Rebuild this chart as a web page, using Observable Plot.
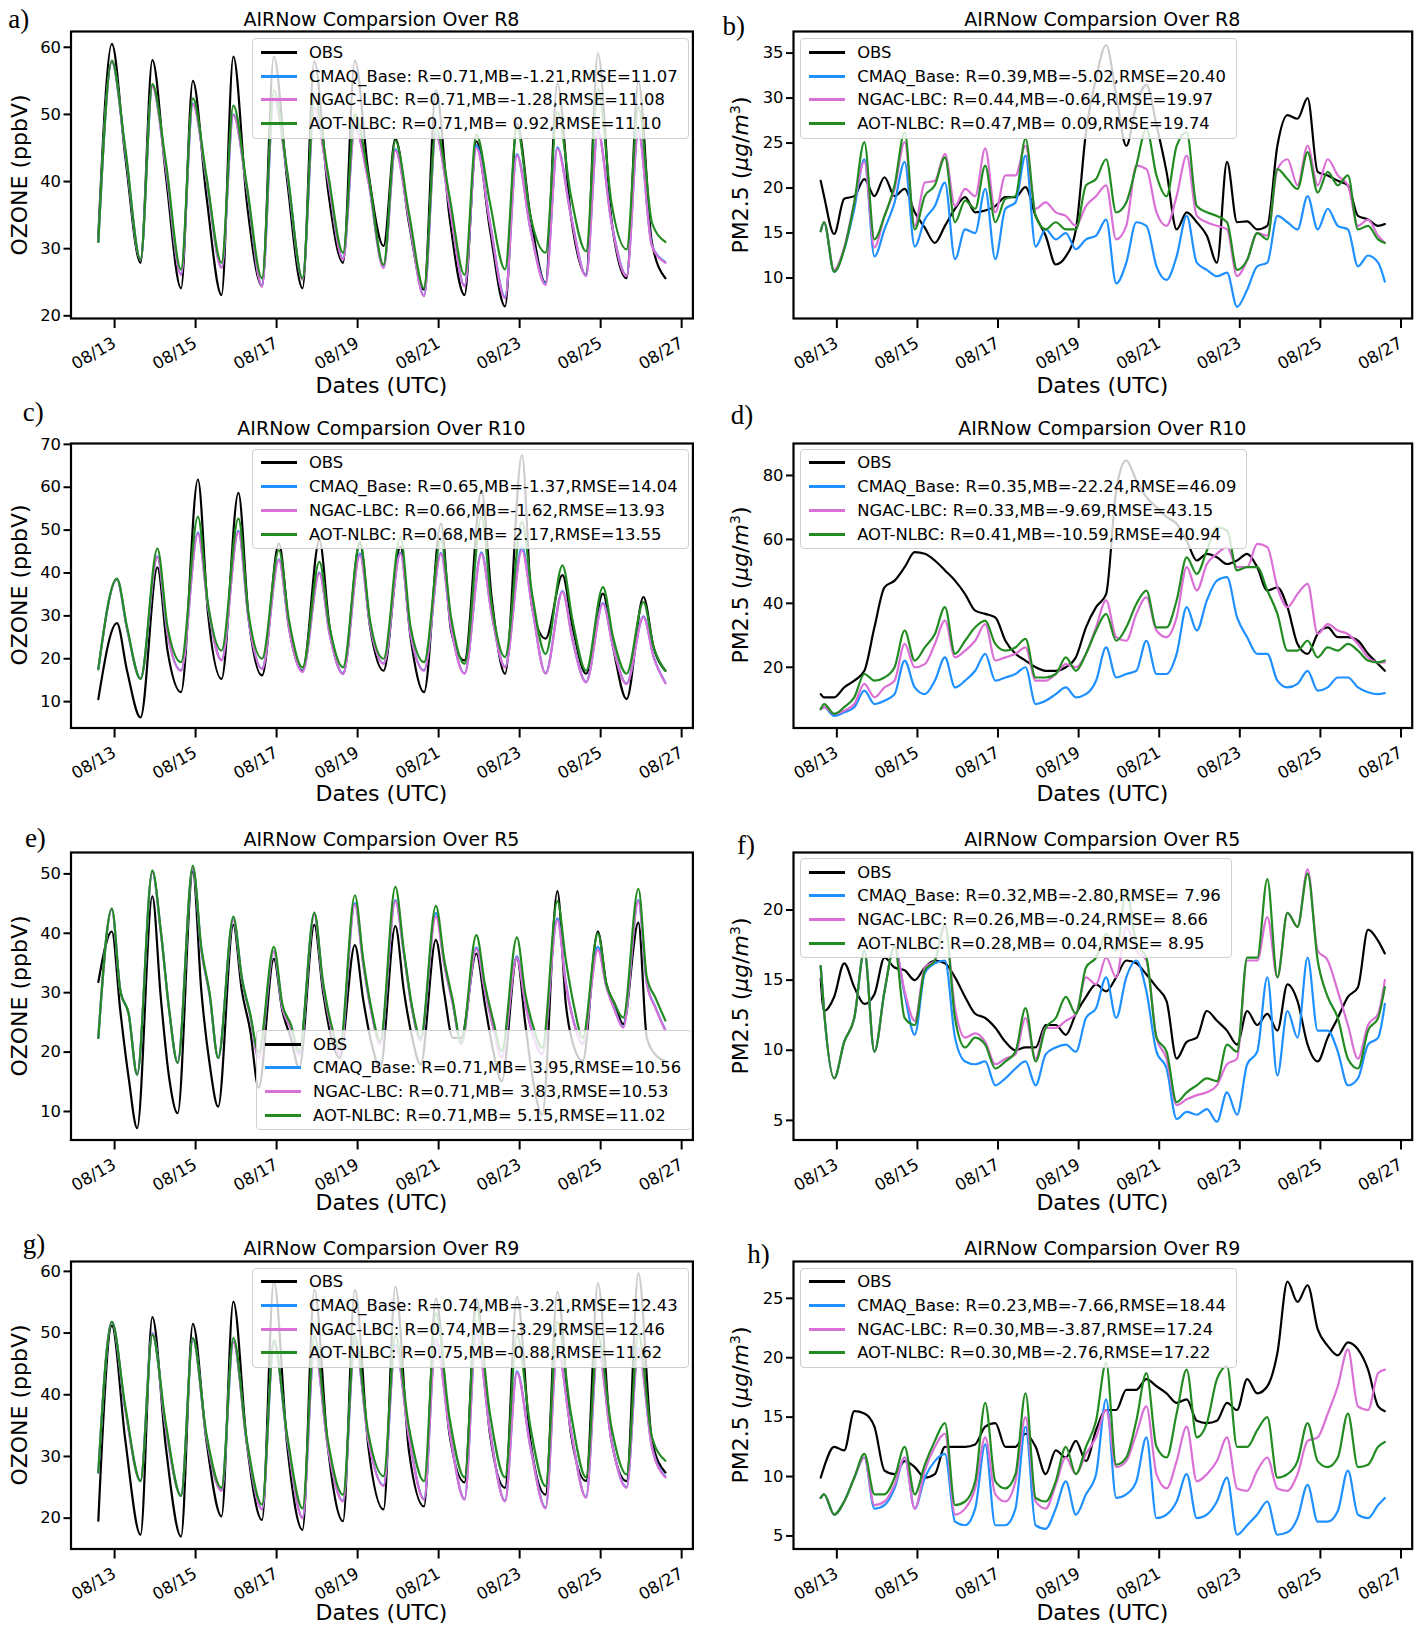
<!DOCTYPE html>
<html><head><meta charset="utf-8">
<script src="https://cdn.jsdelivr.net/npm/d3@7"></script>
<script src="https://cdn.jsdelivr.net/npm/@observablehq/plot@0.6"></script>
<style>
body{margin:0;background:#fff;font-family:"DejaVu Sans",sans-serif;}
#fig{position:relative;width:1421px;height:1625px;background:#fff;overflow:hidden}
.abs{position:absolute}
.title{font-size:19px;white-space:nowrap;transform:translate(-50%,-50%)}
.letter{font-family:"Liberation Serif","DejaVu Serif",serif;font-size:27px;transform:translateY(-50%);line-height:1}
.xlab{font-size:22px;transform:translate(-50%,-50%);white-space:nowrap}
.ylab{font-size:22px;transform:translate(-50%,-50%) rotate(-90deg);white-space:nowrap}
.legend{background:rgba(255,255,255,0.8);border:1px solid #cfcfcf;border-radius:4px;padding:1px 10px 2px 8px;font-size:16.4px;white-space:pre;z-index:5}
.legend .row{height:23.8px;display:flex;align-items:center}
.legend .sw{width:36px;height:3px;margin-right:12px;flex:none}
</style></head><body><div id="fig"></div><script>
// ---------------- DATA ----------------
// hours since 08/13 00 UTC
const tO3a = [-12,-4,4,13,20,28,37,44,52,61,68,76,85,92,100,109,116,124,133,140,148,157,164,172,181,188,196,205,212,220,229,236,244,253,260,268,277,284,292,301,308,316,324];
const tO3c = [-12,-1,5,13,23,29,37,47,53,61,71,77,85,95,101,109,119,125,133,143,149,157,167,173,181,191,197,205,215,221,229,239,245,253,263,269,277,287,293,301,311,317,324];
const tO3e = [-12,-4,1,6,11,20,25,30,35,44,49,54,59,68,73,78,83,92,97,102,107,116,121,126,131,140,145,150,155,164,169,174,179,188,193,198,203,212,217,222,227,236,241,246,251,260,265,270,275,284,289,294,299,308,313,318,324];
const tPM = [-12,-10,-4,2,8,14,20,26,32,38,44,50,56,62,68,74,80,86,92,98,104,110,116,122,128,134,140,146,152,158,164,170,176,182,188,194,200,206,212,218,224,230,236,242,248,254,260,266,272,278,284,290,296,302,308,314,320,324];

// a) ozone R8
const aObs  = [31.9,60.5,43.6,27.9,58.1,40.9,24.1,55.0,37.9,23.1,58.6,36.9,24.4,58.6,39.9,24.1,57.9,38.9,27.9,58.0,41.4,30.4,46.4,33.9,23.9,53.6,34.9,23.1,46.0,32.9,21.4,48.6,34.9,24.9,54.6,34.9,26.1,59.1,34.4,25.6,54.9,30.9,25.6];
const aCmaq = [31.0,57.8,44.5,28.4,54.2,42.1,26.2,51.6,40.5,27.2,50.0,39.0,24.5,52.5,41.0,25.5,51.0,40.5,28.5,48.2,40.1,27.2,44.8,34.5,23.0,47.1,36.5,24.5,45.4,34.0,22.8,44.1,33.0,24.8,45.1,35.0,26.0,47.6,34.0,26.0,47.6,30.5,28.0];
const aNgac = [31.0,57.8,44.5,28.4,54.1,42.0,26.1,51.5,40.4,27.1,49.9,38.9,24.4,52.4,40.9,25.4,50.9,40.4,28.4,48.0,40.0,27.1,44.6,34.4,22.9,46.9,36.4,24.4,45.0,33.9,22.6,43.9,32.9,24.6,44.9,34.9,25.9,47.4,33.9,25.9,47.4,30.4,27.9];
const aAot  = [31.0,58.0,44.9,28.4,54.5,42.9,26.9,52.4,40.9,27.9,51.3,39.4,25.6,53.6,41.4,25.6,52.5,41.4,29.4,50.0,40.9,27.6,46.1,35.4,24.1,47.9,37.9,26.1,47.0,36.9,26.9,48.0,34.9,29.4,50.4,37.9,29.6,53.9,36.9,29.9,51.1,33.9,31.0];

// b) PM2.5 R8
const bObs  = [20.8,19.1,14.9,18.8,19.1,21.0,19.1,21.2,19.1,19.9,17.3,15.6,13.9,15.8,17.7,19.0,17.3,17.5,18.0,19.0,19.0,20.1,16.9,14.7,11.5,12.4,15.4,26.2,32.2,35.9,30.3,24.7,29.2,31.5,27.0,21.8,15.4,17.3,16.2,14.7,11.7,22.9,16.2,16.3,15.4,15.8,24.7,28.1,27.7,30.0,21.8,21.4,20.8,20.3,16.9,16.5,15.8,16.0];
const bCmaq = [15.2,16.2,10.7,13.2,17.7,23.2,12.4,15.4,18.4,22.9,13.5,16.5,18.0,20.6,12.1,15.4,15.0,19.9,12.1,17.7,18.4,23.6,13.5,15.4,14.3,15.0,13.2,14.3,14.7,16.5,9.4,11.7,16.2,15.8,11.3,9.8,12.4,16.9,11.7,10.9,10.2,10.6,6.8,8.7,11.3,11.7,16.9,16.2,15.4,19.1,15.4,17.7,15.8,15.4,11.3,12.5,11.7,9.6];
const bNgac = [15.2,16.2,10.9,13.4,18.4,22.9,13.4,16.9,19.9,25.1,15.8,20.6,20.8,23.8,18.0,19.9,19.1,24.4,17.3,21.4,21.4,24.7,17.7,18.4,17.3,16.9,15.8,18.0,19.1,20.3,14.3,15.8,22.5,22.1,17.3,15.8,19.1,23.6,16.9,16.2,15.8,15.4,10.2,12.0,15.0,14.7,22.1,23.2,20.3,24.7,20.3,23.2,21.4,20.3,15.8,16.5,14.7,13.9];
const bAot  = [15.2,16.2,10.7,13.2,18.4,25.1,14.3,16.9,20.3,26.2,15.4,19.1,20.3,23.4,16.2,18.6,17.7,22.5,16.2,18.8,19.1,25.5,16.9,15.4,16.2,15.4,15.4,20.3,21.0,23.2,17.3,18.4,22.5,26.6,21.4,19.1,24.7,26.2,18.0,17.3,16.9,16.2,10.9,12.0,15.0,14.3,22.1,21.0,19.9,24.0,19.5,21.8,20.3,21.4,15.4,15.8,14.3,13.9];

// c) ozone R10
const cObs  = [10.6,28.3,17.2,6.3,41.3,21.9,12.2,61.8,30.5,15.3,58.7,29.7,16.1,46.9,27.4,17.2,47.6,27.4,16.5,46.9,27.4,17.2,46.1,25.0,12.2,51.5,26.6,19.6,59.3,34.4,16.5,67.5,32.1,24.7,39.5,27.4,16.5,35.2,22.7,10.6,34.4,22.7,17.2];
const cCmaq = [17.6,38.5,27.0,15.4,43.9,25.9,17.3,49.4,32.2,19.7,49.8,29.3,17.7,43.2,27.1,17.0,40.1,25.9,16.6,44.5,27.9,18.9,44.7,25.9,17.3,44.7,27.5,16.6,44.8,30.6,18.1,46.1,32.2,16.6,35.8,24.4,14.6,33.0,22.8,14.2,29.9,20.5,14.4];
const cNgac = [17.6,38.5,27.0,15.3,43.7,25.8,17.2,49.2,32.1,19.6,49.6,29.2,17.6,43.0,27.0,16.9,39.9,25.8,16.5,44.1,27.8,18.8,44.5,25.8,17.2,44.5,27.4,16.5,44.5,30.5,18.0,45.3,32.1,16.5,35.6,24.3,14.5,32.8,22.7,14.1,29.7,20.4,14.3];
const cAot  = [17.6,38.7,27.4,15.3,45.7,27.4,19.2,53.1,32.8,21.9,52.7,30.5,20.0,45.3,28.9,18.0,42.6,27.4,18.0,47.3,28.9,20.0,48.4,27.4,19.2,47.6,29.7,18.8,53.1,32.8,20.4,51.9,35.2,21.1,41.8,28.9,17.2,36.7,25.0,16.5,33.2,22.7,17.2];

// d) PM2.5 R10
const dObs  = [11.6,10.6,10.6,13.7,15.8,18.9,32.5,45.0,47.1,51.3,56.0,55.5,53.4,50.3,47.1,42.9,37.7,36.7,35.6,28.3,24.2,22.1,20.0,18.9,18.9,20.0,23.1,32.5,38.8,42.9,75.3,84.7,78.4,73.2,70.1,67.0,64.9,59.6,53.4,55.5,54.4,52.3,53.4,55.5,51.3,44.0,45.0,38.8,27.3,24.2,30.4,32.5,29.4,29.4,28.3,24.2,21.0,18.9];
const dCmaq = [6.9,7.5,4.8,5.9,7.5,12.7,8.5,9.5,11.6,22.1,13.7,11.6,15.8,23.1,13.7,15.8,18.9,24.2,15.8,16.8,17.9,20.0,8.5,9.5,11.6,13.7,10.6,11.6,15.8,26.2,16.8,17.9,18.9,28.3,17.9,17.9,24.2,38.8,31.5,40.9,47.1,48.2,35.6,29.4,24.2,24.2,15.8,13.7,14.8,18.9,12.7,13.7,16.8,16.8,13.7,12.2,11.6,11.9];
const dNgac = [6.9,7.5,5.4,6.4,8.5,14.8,10.6,13.7,15.8,27.3,20.0,21.0,27.3,34.6,23.1,25.2,28.3,33.5,22.1,23.1,24.2,26.2,15.8,15.8,17.9,21.0,20.0,24.2,32.5,40.9,29.4,28.3,36.7,41.9,31.5,29.4,35.6,51.3,44.0,52.3,55.5,57.6,51.3,51.3,58.6,57.6,45.0,38.8,42.9,46.1,30.4,33.5,31.5,30.4,27.3,23.1,21.5,21.5];
const dAot  = [6.9,8.5,5.4,7.5,10.6,17.9,15.8,16.8,20.0,31.5,22.1,26.2,30.4,38.8,24.2,28.3,32.5,34.6,27.3,25.2,26.2,28.9,16.8,16.8,17.9,23.1,18.9,24.2,31.5,36.7,28.3,32.5,39.8,44.0,32.5,32.5,40.9,54.4,49.2,56.5,63.8,62.8,50.3,51.3,51.3,44.0,36.7,25.2,25.2,28.3,23.1,26.2,25.2,27.3,25.2,22.1,21.5,22.1];

// e) ozone R5
const eObs  = [31.8,40.3,27.0,15.6,7.2,46.2,29.2,15.6,9.7,50.4,30.4,17.9,10.8,41.4,30.4,23.6,14.0,35.7,27.0,22.4,17.3,41.4,30.4,22.4,19.0,38.0,28.7,21.3,17.3,41.2,30.4,22.4,17.9,38.9,29.8,22.4,22.4,36.6,28.1,20.2,15.1,35.9,24.7,14.5,9.4,47.1,28.1,20.7,18.5,40.3,31.5,28.1,24.7,41.8,22.4,19.6,18.5];
const eCmaq = [22.4,44.0,30.4,26.4,16.2,50.3,40.3,27.0,18.2,51.0,37.2,29.5,19.0,42.3,32.4,26.2,19.1,37.0,27.6,24.1,19.7,43.3,31.6,24.1,19.7,45.1,34.8,26.5,21.4,45.6,36.7,27.1,22.0,43.4,34.8,28.2,21.4,37.6,30.5,24.2,19.1,36.1,28.2,22.5,19.7,42.5,31.7,24.8,21.4,37.7,31.2,27.1,24.2,45.6,31.6,27.6,23.7];
const eNgac = [22.4,44.0,30.4,26.4,16.2,50.3,40.3,27.0,18.2,51.0,37.2,29.5,19.0,42.2,32.3,26.1,19.0,36.9,27.5,24.0,19.6,43.1,31.5,24.0,19.6,44.8,34.6,26.4,21.3,45.4,36.6,27.0,21.9,42.8,34.6,28.1,21.3,37.4,30.4,24.1,19.0,35.9,28.1,22.4,19.6,42.2,31.5,24.7,21.3,37.2,31.0,27.0,24.1,45.4,31.5,27.5,23.6];
const eAot  = [22.4,44.2,30.4,26.4,16.2,50.6,40.5,27.0,18.2,51.4,37.7,29.8,19.0,42.8,32.6,26.4,20.0,37.7,28.1,24.7,20.2,43.5,32.1,24.7,20.7,46.4,35.5,27.0,21.9,47.8,37.2,27.5,22.4,44.6,35.5,28.7,21.6,39.7,31.5,25.3,20.2,39.3,29.8,24.0,20.7,45.4,35.5,27.5,22.4,40.0,31.5,28.1,25.8,47.5,32.6,29.2,25.3];

// f) PM2.5 R5
const fObs  = [15.1,12.8,13.8,16.2,14.5,13.3,14.0,16.6,15.9,15.7,15.0,15.9,16.4,16.2,15.2,13.8,12.6,12.3,11.6,10.6,10.0,10.2,10.2,11.8,11.8,11.1,12.6,13.8,14.7,14.2,15.2,16.4,16.2,15.4,14.5,13.5,9.4,10.6,10.9,12.8,12.1,11.4,10.4,12.8,11.8,12.6,11.4,14.7,13.5,10.4,9.2,10.9,12.3,13.8,14.5,18.6,17.8,16.9];
const fCmaq = [16.0,12.8,8.0,10.6,12.3,17.1,9.9,14.2,17.4,14.0,11.1,15.5,16.2,16.4,10.9,9.2,9.0,9.2,7.5,8.0,8.7,9.2,7.5,9.7,10.2,10.4,9.9,12.3,13.0,15.2,12.3,15.2,16.4,14.2,9.9,8.7,5.1,5.6,5.4,5.8,4.9,7.0,5.4,9.0,9.9,15.2,8.2,12.8,10.9,16.6,11.4,11.4,9.9,7.5,8.0,10.4,10.9,13.3];
const fNgac = [16.0,12.8,8.0,10.6,12.3,17.1,9.9,14.2,17.4,14.2,12.1,15.9,16.4,18.8,13.0,10.9,11.2,10.6,9.0,9.4,9.7,12.3,9.4,11.6,11.6,12.1,12.6,15.2,14.7,16.6,15.2,18.8,17.1,16.4,10.9,9.4,6.1,6.5,6.8,7.0,7.5,9.0,9.4,16.4,16.4,19.5,15.2,19.8,18.8,22.9,17.1,16.4,14.2,11.8,9.4,11.8,12.6,15.0];
const fAot  = [16.0,12.8,8.0,10.6,12.3,17.1,9.9,14.2,17.4,12.3,11.8,15.7,16.4,19.0,12.3,10.2,10.9,10.4,8.7,9.2,9.9,13.0,9.2,11.6,12.3,13.8,12.6,15.9,16.6,18.3,17.1,21.4,17.6,16.6,10.9,9.9,6.3,7.0,7.5,8.0,7.8,10.4,9.9,16.6,16.6,22.2,15.2,19.8,18.8,22.6,16.4,13.8,12.3,9.4,8.7,11.4,12.3,14.5];

// g) ozone R9
const gObs  = [19.6,51.2,32.6,17.3,52.6,31.5,17.0,51.5,32.6,20.3,55.1,32.1,19.7,58.4,31.5,18.1,57.0,31.5,19.5,57.0,31.5,21.4,57.5,31.0,21.9,55.6,33.7,25.8,55.6,33.7,24.9,55.9,32.6,23.8,56.7,33.7,26.0,58.1,32.6,26.0,59.7,32.6,27.4];
const gCmaq = [27.4,51.8,37.6,26.1,50.0,34.6,23.7,49.1,33.3,24.5,48.6,32.2,21.5,48.6,32.7,20.1,47.7,31.6,22.8,48.7,32.7,25.3,48.1,33.3,23.1,49.0,34.3,23.1,50.1,34.3,22.8,43.8,31.6,21.7,47.6,34.3,23.4,47.6,32.7,25.0,47.6,31.6,26.7];
const gNgac = [27.4,51.8,37.5,26.0,49.9,34.5,23.6,49.0,33.2,24.4,48.5,32.1,21.4,48.5,32.6,20.0,47.5,31.5,22.7,48.5,32.6,25.2,47.9,33.2,23.0,48.8,34.2,23.0,49.9,34.2,22.7,43.6,31.5,21.6,47.4,34.2,23.3,47.4,32.6,24.9,47.4,31.5,26.6];
const gAot  = [27.4,51.8,38.1,26.0,49.7,35.3,23.6,49.2,33.7,24.9,49.2,32.6,22.2,48.8,33.2,21.6,49.5,32.6,23.8,49.6,33.7,26.8,49.6,34.8,26.0,53.2,36.4,26.6,54.0,37.0,26.6,49.6,34.8,25.2,51.8,37.0,26.6,49.6,34.8,27.1,49.9,33.2,29.3];

// h) PM2.5 R9
const hObs  = [9.9,10.8,12.5,12.2,15.5,15.3,14.2,10.5,10.2,11.3,10.8,9.9,10.2,12.5,12.5,12.5,12.7,14.2,14.5,12.5,12.5,13.6,12.5,10.2,12.2,11.6,13.0,11.3,13.9,15.6,15.6,17.3,17.3,18.2,17.6,17.0,16.2,16.5,14.7,14.5,14.7,16.2,15.6,18.2,17.0,17.6,20.4,26.4,24.7,26.1,22.4,21.0,20.2,21.3,20.7,19.0,15.9,15.5];
const hCmaq = [8.2,8.5,6.8,7.9,9.9,11.6,7.3,7.6,9.0,11.6,7.3,9.9,11.3,11.9,6.2,5.9,7.3,12.7,5.9,5.9,7.3,14.2,5.9,5.6,7.3,9.6,6.8,8.5,10.2,16.5,8.2,8.5,9.6,13.3,6.5,6.8,7.9,10.2,6.5,6.8,7.9,9.9,5.1,5.9,6.8,7.9,5.1,5.3,6.5,9.3,6.2,6.2,7.1,10.5,6.8,6.5,7.6,8.2];
const hNgac = [8.2,8.5,6.8,7.9,9.9,11.6,7.6,7.9,9.3,11.6,7.3,10.5,12.5,13.6,6.8,7.3,9.0,13.3,8.5,7.9,9.6,15.0,7.9,7.3,9.3,11.6,10.2,11.9,13.3,15.6,10.8,11.3,13.6,15.9,10.2,9.0,11.3,14.2,9.6,10.2,11.3,13.3,9.0,8.8,10.5,11.6,9.0,8.8,10.2,13.0,13.3,15.3,17.6,20.7,15.9,15.6,18.7,19.0];
const hAot  = [8.2,8.5,6.8,7.9,9.9,11.9,8.5,8.5,9.9,12.5,8.5,11.0,13.0,14.5,7.6,7.9,9.6,16.2,9.6,9.0,10.2,17.0,8.2,7.9,9.6,12.5,10.2,12.5,14.7,19.6,11.0,11.6,14.7,18.7,12.5,11.6,15.3,19.0,13.3,14.5,18.2,19.3,12.5,12.5,13.9,15.0,9.9,10.2,11.3,14.5,11.3,10.8,11.6,15.3,10.8,11.0,12.5,12.9];

const seriesNames = ["OBS","CMAQ_Base","NGAC-LBC","AOT-NLBC"];
const tickDays = [13,15,17,19,21,23,25,27];
const regions = ["R8","R10","R5","R9"];
const statsA = ["R=0.71,MB=-1.21,RMSE=11.07","R=0.71,MB=-1.28,RMSE=11.08","R=0.71,MB= 0.92,RMSE=11.10"];
const statsB = ["R=0.39,MB=-5.02,RMSE=20.40","R=0.44,MB=-0.64,RMSE=19.97","R=0.47,MB= 0.09,RMSE=19.74"];
const statsC = ["R=0.65,MB=-1.37,RMSE=14.04","R=0.66,MB=-1.62,RMSE=13.93","R=0.68,MB= 2.17,RMSE=13.55"];
const statsD = ["R=0.35,MB=-22.24,RMSE=46.09","R=0.33,MB=-9.69,RMSE=43.15","R=0.41,MB=-10.59,RMSE=40.94"];
const statsE = ["R=0.71,MB= 3.95,RMSE=10.56","R=0.71,MB= 3.83,RMSE=10.53","R=0.71,MB= 5.15,RMSE=11.02"];
const statsF = ["R=0.32,MB=-2.80,RMSE= 7.96","R=0.26,MB=-0.24,RMSE= 8.66","R=0.28,MB= 0.04,RMSE= 8.95"];
const statsG = ["R=0.74,MB=-3.21,RMSE=12.43","R=0.74,MB=-3.29,RMSE=12.46","R=0.75,MB=-0.88,RMSE=11.62"];
const statsH = ["R=0.23,MB=-7.66,RMSE=18.44","R=0.30,MB=-3.87,RMSE=17.24","R=0.30,MB=-2.76,RMSE=17.22"];

// ---------------- LAYOUT ----------------
const colors = ["black","#1e90ff","#da70d6","#228b22"];
const base = Date.UTC(2020,7,13);
const toDate = h => new Date(base + h*3600e3);
const xDomain = [toDate(-28.2), toDate(340.3)];
const xTicks = tickDays.map(d => new Date(Date.UTC(2020,7,d)));

const cols = [
  {svgLeft:0, w:705, ml:70.5, mr:12.6, ylabX:18.7},
  {svgLeft:720, w:701, ml:73, mr:9.3, ylabX:740}
];
const rows = [
  {top:31.1, h:287, titleY:18.7, xlabY:384.5},
  {top:442.6, h:284.5, titleY:427.5, xlabY:793},
  {top:852, h:287.5, titleY:838.5, xlabY:1202},
  {top:1261.4, h:287.5, titleY:1248, xlabY:1611.7}
];

const panels = [
  {L:"a", c:0, r:0, kind:"o3", t:tO3a, s:[aObs,aCmaq,aNgac,aAot], dom:[19.6,62.35], ticks:[20,30,40,50,60], stats:statsA, leg:[251.9,38.4], let:[8.3,18.7]},
  {L:"b", c:1, r:0, kind:"pm", t:tPM, s:[bObs,bCmaq,bNgac,bAot], dom:[5.5,37.4], ticks:[10,15,20,25,30,35], stats:statsB, leg:[800.2,38.4], let:[722.4,25.9]},
  {L:"c", c:0, r:1, kind:"o3", t:tO3c, s:[cObs,cCmaq,cNgac,cAot], dom:[3.85,70.2], ticks:[10,20,30,40,50,60,70], stats:statsC, leg:[251.9,448.8], let:[22.8,411.5]},
  {L:"d", c:1, r:1, kind:"pm", t:tPM, s:[dObs,dCmaq,dNgac,dAot], dom:[1,90], ticks:[20,40,60,80], stats:statsD, leg:[800.2,448.8], let:[730.7,414.6]},
  {L:"e", c:0, r:2, kind:"o3", t:tO3e, s:[eObs,eCmaq,eNgac,eAot], dom:[5.2,53.6], ticks:[10,20,30,40,50], stats:statsE, leg:[256,1030.3], let:[24.9,837.5]},
  {L:"f", c:1, r:2, kind:"pm", t:tPM, s:[fObs,fCmaq,fNgac,fAot], dom:[3.6,24.1], ticks:[5,10,15,20], stats:statsF, leg:[800.2,858.2], let:[737,844.7]},
  {L:"g", c:0, r:3, kind:"o3", t:tO3a, s:[gObs,gCmaq,gNgac,gAot], dom:[15,61.6], ticks:[20,30,40,50,60], stats:statsG, leg:[251.9,1267.6], let:[22.8,1243.8]},
  {L:"h", c:1, r:3, kind:"pm", t:tPM, s:[hObs,hCmaq,hNgac,hAot], dom:[3.9,28.1], ticks:[5,10,15,20,25], stats:statsH, leg:[800.2,1267.6], let:[747.3,1254.2]}
];

const fig = document.getElementById("fig");
function addDiv(cls, left, top, html){
  const d = document.createElement("div");
  d.className = "abs " + cls;
  d.style.left = left + "px"; d.style.top = top + "px";
  d.innerHTML = html;
  fig.appendChild(d);
  return d;
}

for (const p of panels) {
  const C = cols[p.c], R = rows[p.r];
  const mt = 12, mb = 75;
  const lineMarks = p.s.map((vals, k) => Plot.line(
    p.t.map((h, i) => ({t: toDate(h), v: vals[i]})),
    {x: "t", y: "v", stroke: colors[k], strokeWidth: 2.2, curve: "monotone-x"}
  ));
  const svg = Plot.plot({
    width: C.w, height: mt + R.h + mb,
    marginLeft: C.ml, marginRight: C.mr, marginTop: mt, marginBottom: mb,
    style: {fontFamily: "DejaVu Sans", fontSize: "16.4px", color: "black", background: "transparent", overflow: "visible"},
    x: {type: "utc", domain: xDomain},
    y: {domain: p.dom},
    marks: [
      ...lineMarks,
      Plot.frame({stroke: "black", strokeWidth: 2.2}),
      Plot.axisX({ticks: xTicks, tickFormat: d3.utcFormat("%m/%d"), tickRotate: -30, tickSize: 10, tickPadding: 13, dx: -4, fontSize: 16.6, strokeWidth: 2, label: null}),
      Plot.axisY({ticks: p.ticks, tickSize: 7, tickPadding: 3, fontSize: 16.4, strokeWidth: 2, label: null})
    ]
  });
  svg.style.position = "absolute";
  svg.style.left = C.svgLeft + "px";
  svg.style.top = (R.top - mt) + "px";
  fig.appendChild(svg);

  const cx = C.svgLeft + C.ml + (C.w - C.ml - C.mr) / 2;
  addDiv("title", cx, R.titleY, "AIRNow Comparsion Over " + regions[p.r]);
  addDiv("letter", p.let[0], p.let[1], p.L + ")");
  addDiv("xlab", cx, R.xlabY, "Dates (UTC)");
  addDiv("ylab", C.ylabX, R.top + R.h / 2,
    p.kind === "o3" ? "OZONE (ppbV)" : "PM2.5 (<i>μg</i>/<i>m</i><sup style='font-size:14px'>3</sup>)");
  const labels = ["OBS"].concat(seriesNames.slice(1).map((n, k) => n + ": " + p.stats[k]));
  const rowsHtml = labels.map((txt, k) =>
    `<div class="row"><div class="sw" style="background:${colors[k]}"></div><span>${txt}</span></div>`).join("");
  addDiv("legend", p.leg[0], p.leg[1], rowsHtml);
}
</script></body></html>
